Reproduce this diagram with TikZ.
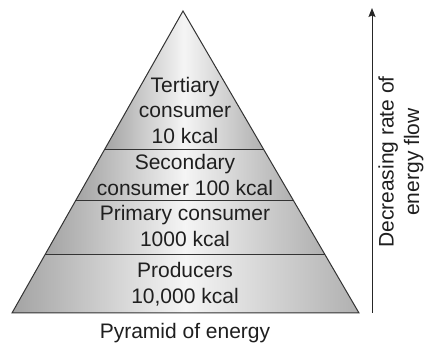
\documentclass[tikz,border=0pt]{standalone}
\usepackage{fontspec}
\setmainfont{Liberation Sans}
\usetikzlibrary{calc,arrows.meta}

\tikzset{
  band/.style={left color=gray!72,right color=gray!62,middle color=gray!8},
  level/.style={align=center,text=black!88,font=\fontsize{21}{25.5}\selectfont},
  edge/.style={draw=black!80,line width=1pt},
}

\begin{document}
\begin{tikzpicture}[x=1pt,y=-1pt]
\useasboundingbox (0,0) rectangle (429,344);

\coordinate (apex) at (183,11);
\coordinate (bl) at (12,313);
\coordinate (br) at (359,313);

\coordinate (l1) at ($(apex)!0.460!(bl)$);
\coordinate (r1) at ($(apex)!0.460!(br)$);
\coordinate (l2) at ($(apex)!0.629!(bl)$);
\coordinate (r2) at ($(apex)!0.629!(br)$);
\coordinate (l3) at ($(apex)!0.805!(bl)$);
\coordinate (r3) at ($(apex)!0.805!(br)$);

\shade[band] (apex) -- (r1) -- (l1) -- cycle;
\shade[band] (l1) -- (r1) -- (r2) -- (l2) -- cycle;
\shade[band] (l2) -- (r2) -- (r3) -- (l3) -- cycle;
\shade[band] (l3) -- (r3) -- (br) -- (bl) -- cycle;

\draw[edge,line join=miter] (apex) -- (br) -- (bl) -- cycle;
\draw[edge] (l1) -- (r1);
\draw[edge] (l2) -- (r2);
\draw[edge] (l3) -- (r3);

\node[level] (tertiary) at (185,110) {Tertiary\\consumer\\10 kcal};
\node[level] (secondary) at (185,175) {Secondary\\consumer 100 kcal};
\node[level] (primary) at (185,226) {Primary consumer\\1000 kcal};
\node[level] (producers) at (185,284) {Producers\\10,000 kcal};
\node[level] (caption) at (185,333) {Pyramid of energy};

\coordinate (flowlow) at (372,313);
\coordinate (flowhigh) at (372,8);
\draw[black!85,line width=1pt,-{Stealth[length=9pt,width=7pt,inset=1.5pt]}] (flowlow) -- (flowhigh);
\node[level,rotate=90] (flowtext) at (401,162) {Decreasing rate of\\energy flow};
\end{tikzpicture}
\end{document}
